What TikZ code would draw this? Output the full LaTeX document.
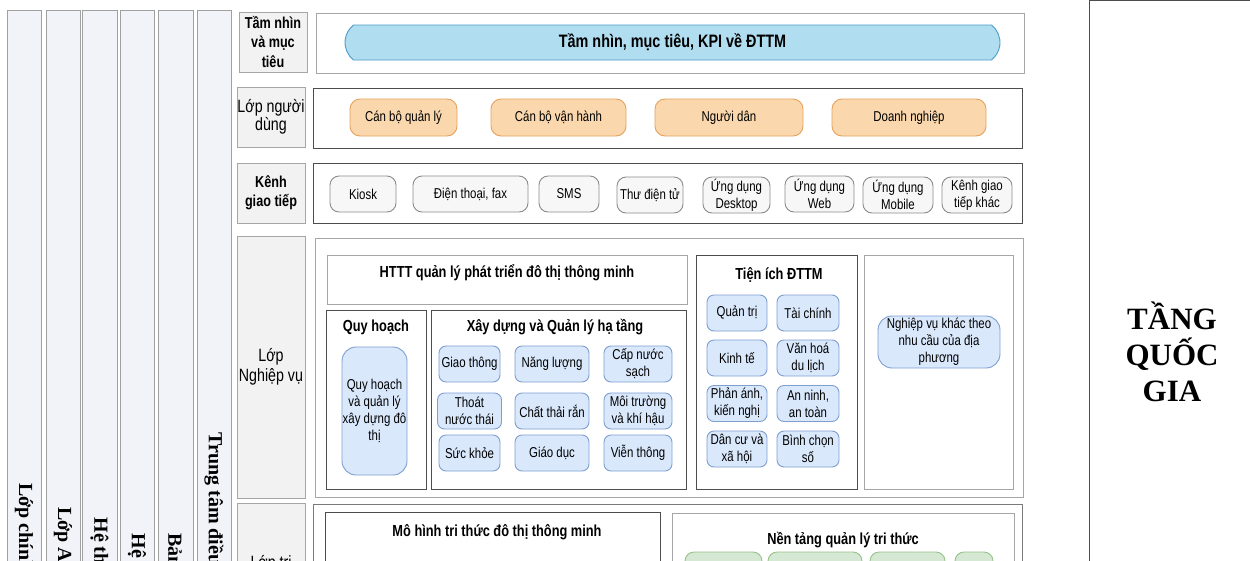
\documentclass[tikz,border=0pt]{standalone}
\usepackage{fontspec}
\setmainfont{Liberation Sans}[FakeStretch=0.8]
\newfontfamily\tnr{Liberation Serif}
\usetikzlibrary{shapes.misc}

\definecolor{colfill}{HTML}{F2F3F9}
\definecolor{colline}{HTML}{A0A0A0}
\definecolor{lblfill}{HTML}{F2F2F2}
\definecolor{lblline}{HTML}{A6A6A6}
\definecolor{pnlight}{HTML}{A6A6A6}
\definecolor{pnmid}{HTML}{7A7A7A}
\definecolor{pndark}{HTML}{4D4D4D}
\definecolor{ellfill}{HTML}{B1DDF0}
\definecolor{ellline}{HTML}{4B9CC8}
\definecolor{orfill}{HTML}{FAD7AC}
\definecolor{orline}{HTML}{E6A25C}
\definecolor{chfill}{HTML}{F7F7F7}
\definecolor{chline}{HTML}{8C8C8C}
\definecolor{blfill}{HTML}{DAE8FC}
\definecolor{blline}{HTML}{7E9FD0}
\definecolor{grfill}{HTML}{D5E8D4}
\definecolor{grline}{HTML}{97C28A}

\begin{document}
\begin{tikzpicture}[x=1pt, y=-1pt, line width=0.9pt,
  colbox/.style={draw=colline, fill=colfill},
  vtext/.style={rotate=-90, anchor=west, inner sep=0pt, font=\tnr\bfseries\fontsize{20}{24}\selectfont},
  lbl/.style={draw=lblline, fill=lblfill, inner sep=0pt, align=center, font=\fontsize{17.8}{18}\selectfont},
  lblb/.style={lbl, font=\bfseries\fontsize{15.8}{19.5}\selectfont},
  ttl/.style={inner sep=0pt, align=center, font=\bfseries\fontsize{16}{18}\selectfont},
  txt/.style={inner sep=0pt, align=center, font=\fontsize{14.3}{17}\selectfont},
  ellbox/.style={txt, rounded rectangle, rounded rectangle arc length=105, draw=ellline, fill=ellfill,
    font=\bfseries\fontsize{18}{20}\selectfont},
  obox/.style={txt, rounded corners=10pt, draw=orline, fill=orfill},
  cbox/.style={txt, rounded corners=9pt, draw=chline, fill=chfill},
  bbox/.style={txt, rounded corners=7pt, draw=blline, fill=blfill},
  gbox/.style={rounded corners=9pt, draw=grline, fill=grfill},
  tqgtext/.style={inner sep=0pt, align=center, font=\tnr\bfseries\fontsize{31}{36}\selectfont}
]
\useasboundingbox (0,0) rectangle (1250,560);
\clip (0,0) rectangle (1250,560);
\fill[white] (0,0) rectangle (1250,560);

% vertical cross-cutting columns
\foreach \a/\b in {7/41,46/80,82/117,120/154,158/193,197/231}
  \draw[colbox] (\a,10) rectangle (\b,660);
\node[vtext] (v1) at (24,483) {Lớp chính sách};
\node[vtext] (v2) at (63,507) {Lớp An toàn thông tin};
\node[vtext] (v3) at (99.5,517) {Hệ thống};
\node[vtext] (v4) at (137,533) {Hệ sinh thái};
\node[vtext] (v5) at (175.5,533) {Bản đồ số};
\node[vtext] (v6) at (214,432) {Trung tâm điều hành};

% layer labels
\node[lblb, minimum width=68pt, minimum height=60pt] (l1) at (273,42) {Tầm nhìn\\và mục\\tiêu};
\node[lbl, minimum width=68pt, minimum height=60pt] (l2) at (271,117) {Lớp người\\dùng};
\node[lblb, minimum width=68pt, minimum height=60pt] (l3) at (271,193) {Kênh\\giao tiếp};
\node[lbl, minimum width=68pt, minimum height=262pt, font=\fontsize{17.8}{20}\selectfont] (l4) at (271,367) {Lớp\\Nghiệp vụ};
\draw[draw=lblline, fill=lblfill] (237,503) rectangle (305,700);
\node[txt, anchor=base, font=\fontsize{17.8}{20}\selectfont] (l5) at (271,588) {Lớp tri\\thức};

% layer panels
\draw[draw=pnlight] (316,13) rectangle (1024,73);
\draw[draw=pndark] (313,88) rectangle (1022,148);
\draw[draw=pndark] (313,163) rectangle (1022,223);
\draw[draw=pnlight] (315,238) rectangle (1023,497);
\draw[draw=pnmid] (313,504) rectangle (1022,700);

% vision
\node[ellbox, minimum width=655pt, minimum height=35pt] (vis) at (672.5,42.5) {Tầm nhìn, mục tiêu, KPI về ĐTTM};

% users
\node[obox, minimum width=107pt, minimum height=37pt] (u1) at (403.5,117.5) {Cán bộ quản lý};
\node[obox, minimum width=135pt, minimum height=37pt] (u2) at (558.5,117.5) {Cán bộ vận hành};
\node[obox, minimum width=148pt, minimum height=37pt] (u3) at (729,117.5) {Người dân};
\node[obox, minimum width=154pt, minimum height=37pt] (u4) at (909,117.5) {Doanh nghiệp};

% channels
\node[cbox, minimum width=66pt, minimum height=36pt] (k1) at (363,194) {Kiosk};
\node[cbox, minimum width=115pt, minimum height=36pt] (k2) at (470.5,194) {Điện thoại, fax};
\node[cbox, minimum width=60pt, minimum height=36pt] (k3) at (569,194) {SMS};
\node[cbox, minimum width=66pt, minimum height=36pt] (k4) at (650,195) {Thư điện tử};
\node[cbox, minimum width=67pt, minimum height=36pt] (k5) at (736.5,195) {Ứng dụng\\Desktop};
\node[cbox, minimum width=69pt, minimum height=36pt] (k6) at (819.5,194) {Ứng dụng\\Web};
\node[cbox, minimum width=70pt, minimum height=36pt] (k7) at (898,195) {Ứng dụng\\Mobile};
\node[cbox, minimum width=70pt, minimum height=36pt] (k8) at (977,195) {Kênh giao\\tiếp khác};

% business layer
\draw[draw=pnlight] (327,255) rectangle (687,304);
\node[ttl] (httt) at (507,273) {HTTT quản lý phát triển đô thị thông minh};

\draw[draw=pndark] (326,310) rectangle (426,489);
\node[ttl] (qh) at (376,327) {Quy hoạch};
\node[bbox, rounded corners=14pt, minimum width=65pt, minimum height=128pt] (qh1) at (374.5,411)
  {Quy hoạch\\và quản lý\\xây dựng đô\\thị};

\draw[draw=pndark] (431,310) rectangle (686,489);
\node[ttl] (xd) at (555,327) {Xây dựng và Quản lý hạ tầng};
\node[bbox, minimum width=61pt, minimum height=36pt] (x1) at (469.5,364) {Giao thông};
\node[bbox, minimum width=74pt, minimum height=36pt] (x2) at (552,364) {Năng lượng};
\node[bbox, minimum width=68pt, minimum height=36pt] (x3) at (638,364) {Cấp nước\\sạch};
\node[bbox, minimum width=64pt, minimum height=36pt] (x4) at (469.5,411) {Thoát\\nước thái};
\node[bbox, minimum width=74pt, minimum height=36pt] (x5) at (552,411) {Chất thải rắn};
\node[bbox, minimum width=68pt, minimum height=36pt] (x6) at (638,411) {Môi trường\\và khí hậu};
\node[bbox, minimum width=61pt, minimum height=36pt] (x7) at (469.5,453) {Sức khỏe};
\node[bbox, minimum width=74pt, minimum height=36pt] (x8) at (552,453) {Giáo dục};
\node[bbox, minimum width=68pt, minimum height=36pt] (x9) at (638,453) {Viễn thông};

\draw[draw=pndark] (696,255) rectangle (857,489);
\node[ttl] (ti) at (779,275) {Tiện ích ĐTTM};
\node[bbox, minimum width=60pt, minimum height=36pt] (t1) at (737,313) {Quản trị};
\node[bbox, minimum width=62pt, minimum height=36pt] (t2) at (808,313) {Tài chính};
\node[bbox, minimum width=60pt, minimum height=36pt] (t3) at (737,358) {Kinh tế};
\node[bbox, minimum width=62pt, minimum height=36pt] (t4) at (808,358) {Văn hoá\\du lịch};
\node[bbox, minimum width=60pt, minimum height=36pt] (t5) at (737,403.5) {Phản ánh,\\kiến nghị};
\node[bbox, minimum width=62pt, minimum height=36pt] (t6) at (808,403.5) {An ninh,\\an toàn};
\node[bbox, minimum width=60pt, minimum height=36pt] (t7) at (737,449) {Dân cư và\\xã hội};
\node[bbox, minimum width=62pt, minimum height=36pt] (t8) at (808,449) {Bình chọn\\số};

\draw[draw=pnlight] (864,255) rectangle (1013,489);
\node[bbox, rounded corners=14pt, minimum width=122pt, minimum height=52pt] (nv) at (939,342)
  {Nghiệp vụ khác theo\\nhu cầu của địa\\phương};

% knowledge layer
\draw[draw=pndark] (325,512) rectangle (660,700);
\node[ttl] (mh) at (497,532) {Mô hình tri thức đô thị thông minh};
\draw[draw=pnlight] (672,513) rectangle (1014,700);
\node[ttl] (nt) at (843,540) {Nền tảng quản lý tri thức};
\draw[gbox] (685,552) rectangle (762,620);
\draw[gbox] (768,552) rectangle (862,620);
\draw[gbox] (870,552) rectangle (945,620);
\draw[gbox] (955,552) rectangle (993,620);

% national tier
\draw[draw=pndark, line width=1.3pt] (1089.5,0.7) rectangle (1320,700);
\node[tqgtext] (tqg) at (1172,352) {TẦNG\\QUỐC\\GIA};
\end{tikzpicture}
\end{document}
